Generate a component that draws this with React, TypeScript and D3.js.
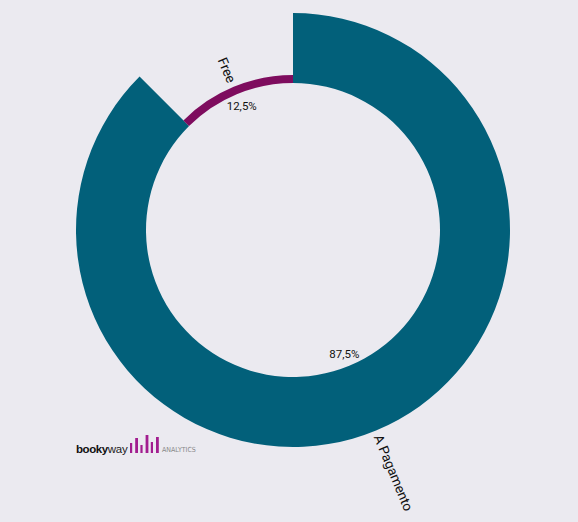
import React from "react";
import * as d3 from "d3";

const categories = ["A Pagamento", "Free"];
const values = [87.5, 12.5];
const valueLabels = ["87,5%", "12,5%"];
const colors = ["#02607A", "#7E0C5E"];
const logoBars = [10, 15, 8, 18, 11, 16];

const W = 578;
const H = 522;
const cx = 293;
const cy = 230;
const inner = 147;

export default function App() {
  const pie = d3.pie<number>().sort(null).value((d) => d);
  const arcs = pie(values);
  const rScale = d3.scaleLinear().domain([12.5, 87.5]).range([155, 217]);
  const arcGen = d3.arc<any>();

  return (
    <svg
      width={W}
      height={H}
      style={{ position: "absolute", left: 0, top: 0, background: "#EBEAF0" }}
      fontFamily="Roboto, 'Liberation Sans', Arial, sans-serif"
    >
      <rect x={0} y={0} width={W} height={H} fill="#EBEAF0" />
      <g transform={`translate(${cx},${cy})`}>
        {arcs.map((a, i) => {
          const outer = rScale(values[i]);
          const d = arcGen({ innerRadius: inner, outerRadius: outer, startAngle: a.startAngle, endAngle: a.endAngle }) as string;
          const mid = (a.startAngle + a.endAngle) / 2;
          const deg = (mid * 180) / Math.PI;
          const rightSide = mid < Math.PI;
          const labR = outer + 5;
          const lx = Math.sin(mid) * labR;
          const ly = -Math.cos(mid) * labR;
          const rot = rightSide ? deg - 90 : deg + 90;
          const pr = inner - 13;
          const px = Math.sin(mid) * pr;
          const py = -Math.cos(mid) * pr;
          return (
            <g key={categories[i]}>
              <path d={d} fill={colors[i]} />
              <text
                transform={`translate(${lx},${ly}) rotate(${rot})`}
                textAnchor={rightSide ? "start" : "end"}
                dy="0.35em"
                fontSize={13.5}
                fill="#111"
              >
                {categories[i]}
              </text>
              <text x={px} y={py} dy="0.35em" textAnchor="middle" fontSize={11.5} fill="#111">
                {valueLabels[i]}
              </text>
            </g>
          );
        })}
      </g>
      <g>
        <text x={76} y={453} fontSize={11.5} fontWeight="bold" fill="#111" fontFamily="'Liberation Sans', Arial, sans-serif" letterSpacing={-0.4}>
          booky
        </text>
        <text x={107.8} y={453} fontSize={11.5} fill="#222" fontFamily="'Liberation Sans', Arial, sans-serif" letterSpacing={-0.3}>
          way
        </text>
        {logoBars.map((h, i) => (
          <rect key={i} x={130 + i * 5.2} y={453 - h} width={i % 2 === 0 ? 2.2 : 2.8} height={h} fill="#A21D8F" />
        ))}
        <text x={162} y={452} fontSize={7} fill="#888" fontFamily="'Liberation Sans Narrow', 'DejaVu Sans Condensed', sans-serif">
          ANALYTICS
        </text>
      </g>
    </svg>
  );
}
